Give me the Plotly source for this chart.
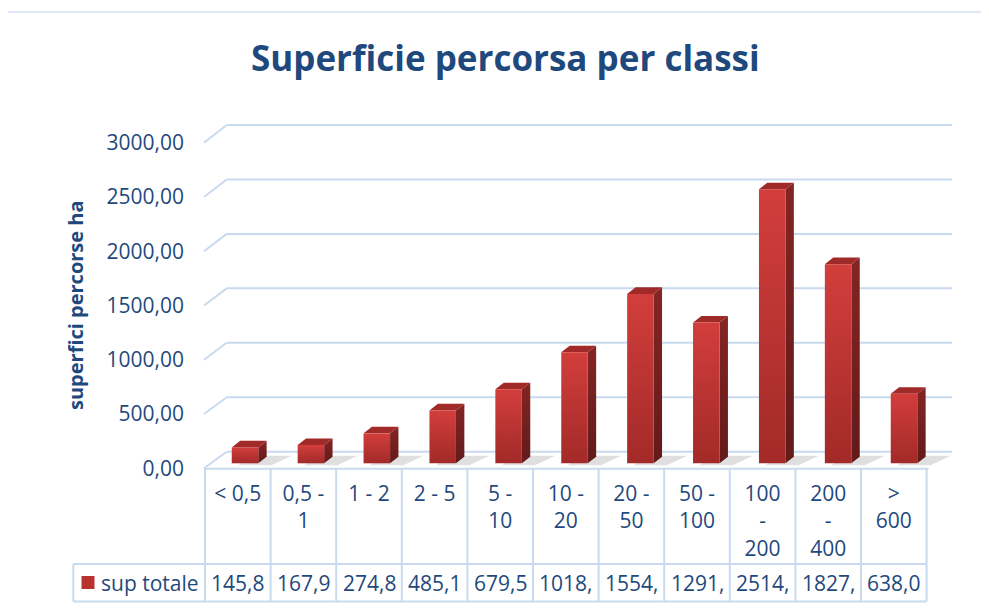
import plotly.graph_objects as go

# ---------------- data ----------------
categories = ["< 0,5", "0,5 -<br>1", "1 - 2", "2 - 5", "5 -<br>10", "10 -<br>20",
              "20 -<br>50", "50 -<br>100", "100<br>-<br>200", "200<br>-<br>400", "><br>600"]
values = [145.8, 167.9, 274.8, 485.1, 679.5, 1018.3, 1554.2, 1291.4, 2514.6, 1827.1, 638.0]
series_name = "sup totale"
y_ticks = [0, 500, 1000, 1500, 2000, 2500, 3000]
title_text = "Superficie percorsa per classi"
y_title = "superfici percorse ha"

# ---------------- geometry helpers (layout only) ----------------
W, H = 989, 611
OFF = 8  # page body margin offset of the figure inside the window
def px(x): return (x - OFF) / W
def py(y): return 1 - (y - OFF) / H

TXT = "#1F497D"
GRID = "#C9DAEF"
FONT = "Open Sans"

def y_range(p0, scale):
    # value 0 at screen pixel p0, 'scale' px per unit
    p = p0 - OFF
    return [-(H - p) / scale, p / scale]

def x_range(p0, scale):
    p = p0 - OFF
    return [-p / scale, (W - p) / scale]

# bars y axis
yb_range = y_range(463.3, 0.10899)
# front (labels) axis
yf0, yfs = 468.3, 0.10853
yf_range = y_range(yf0, yfs)
# back wall (gridlines)
yk0, yks = 451.7, 0.1089
def back_y(v): return yk0 - yks * v
def front_y(v): return yf0 - yfs * v

# table axis: column i center at 237.8 + 65.6 i
xt_range = x_range(237.8, 65.6)
# bar axis: bar i front center at 245 + 65.9 i
xbs = 65.9
xb_range = x_range(245.0, xbs)

bw = 26.5 / xbs          # front face width (axis units)
ddx = 8.4 / xbs          # depth offset x
ddy = 6.6 / 0.10899      # depth offset y (value units)

fig = go.Figure()

# dummy traces so the auxiliary axes exist
fig.add_trace(go.Scatter(x=[0], y=[0], xaxis="x", yaxis="y", mode="markers",
                         marker=dict(opacity=0), hoverinfo="skip", showlegend=False))
fig.add_trace(go.Scatter(x=[0], y=[0], xaxis="x", yaxis="y2", mode="markers",
                         marker=dict(opacity=0), hoverinfo="skip", showlegend=False))

n = len(values)
# floor shadows
for i, v in enumerate(values):
    xl, xr = i - bw / 2, i + bw / 2
    fig.add_trace(go.Scatter(
        x=[xl + 0.1, xr + 0.2, xr + ddx + 0.38, xl + 0.3, xl + 0.1],
        y=[-18, -18, 70, 70, -18], xaxis="x2", yaxis="y",
        fill="toself", mode="lines", line=dict(width=0),
        fillcolor="rgba(110,110,110,0.22)", hoverinfo="skip", showlegend=False))

for i, v in enumerate(values):
    xl, xr = i - bw / 2, i + bw / 2
    # side face
    fig.add_trace(go.Scatter(
        x=[xr, xr + ddx, xr + ddx, xr, xr], y=[0, ddy, v + ddy, v, 0],
        xaxis="x2", yaxis="y", fill="toself", mode="lines", line=dict(width=0),
        fillgradient=dict(type="vertical", colorscale=[[0, "#621a19"], [1, "#842524"]]),
        hoverinfo="skip", showlegend=False))
    # top face
    fig.add_trace(go.Scatter(
        x=[xl, xl + ddx, xr + ddx, xr, xl], y=[v, v + ddy, v + ddy, v, v],
        xaxis="x2", yaxis="y", fill="toself", mode="lines", line=dict(width=0),
        fillcolor="#9f2a28", hoverinfo="skip", showlegend=False))
    # front face
    fig.add_trace(go.Scatter(
        x=[xl, xr, xr, xl, xl], y=[0, 0, v, v, 0],
        xaxis="x2", yaxis="y", fill="toself", mode="lines", line=dict(width=0),
        fillgradient=dict(type="vertical", colorscale=[[0, "#a22a28"], [1, "#d23e3c"]]),
        name=series_name, showlegend=False,
        hovertemplate=f"{categories[i]}: {v}<extra></extra>"))

shapes = []
# outer chart border
shapes.append(dict(type="rect", xref="paper", yref="paper", x0=px(5), x1=px(1010),
                   y0=py(640), y1=py(12), line=dict(color="#D5E2F2", width=1.5), layer="below"))
# gridlines on back wall + left wall diagonals
for v in y_ticks:
    shapes.append(dict(type="line", xref="paper", yref="paper", x0=px(226.7), x1=px(952),
                       y0=py(back_y(v)), y1=py(back_y(v)), line=dict(color=GRID, width=2), layer="below"))
    shapes.append(dict(type="line", xref="paper", yref="paper", x0=px(204), x1=px(226.7),
                       y0=py(front_y(v)), y1=py(back_y(v)), line=dict(color=GRID, width=2), layer="below"))
# floor front edge / table top
shapes.append(dict(type="line", xref="paper", yref="paper", x0=px(204), x1=px(928.5),
                   y0=py(468.8), y1=py(468.8), line=dict(color=GRID, width=2), layer="below"))
# table
col_edges = [205 + 65.6 * k for k in range(n + 1)]
for xe in col_edges:
    shapes.append(dict(type="line", xref="paper", yref="paper", x0=px(xe), x1=px(xe),
                       y0=py(469), y1=py(601.5), line=dict(color=GRID, width=2), layer="below"))
for yl in (564, 601.5):
    shapes.append(dict(type="line", xref="paper", yref="paper", x0=px(73.3), x1=px(col_edges[-1]),
                       y0=py(yl), y1=py(yl), line=dict(color=GRID, width=2), layer="below"))
shapes.append(dict(type="line", xref="paper", yref="paper", x0=px(73.3), x1=px(73.3),
                   y0=py(564), y1=py(601.5), line=dict(color=GRID, width=2), layer="below"))
# legend key
shapes.append(dict(type="rect", xref="paper", yref="paper", x0=px(81.5), x1=px(94.5),
                   y0=py(589), y1=py(576), line=dict(width=0), fillcolor="#b83230"))

annotations = []
annotations.append(dict(text=title_text, x=px(505), y=py(58), xref="paper", yref="paper",
                        xanchor="center", yanchor="middle", showarrow=False,
                        font=dict(family=FONT, size=35, color=TXT, weight="bold")))
annotations.append(dict(text=y_title, x=px(75), y=py(305), xref="paper", yref="paper",
                        xanchor="center", yanchor="middle", showarrow=False, textangle=-90,
                        font=dict(family=FONT, size=20, color=TXT, weight="bold")))
annotations.append(dict(text=series_name, x=px(99), y=py(583), xref="paper", yref="paper",
                        xanchor="left", yanchor="middle", showarrow=False,
                        font=dict(family=FONT, size=21, color=TXT)))
for i, v in enumerate(values):
    label = f"{v:.1f}".replace(".", ",")[:5]
    annotations.append(dict(text=label, x=i, y=py(583), xref="x", yref="paper",
                            xanchor="center", yanchor="middle", showarrow=False,
                            font=dict(family=FONT, size=21, color=TXT)))

fig.update_layout(
    width=W, height=H, autosize=False,
    margin=dict(l=0, r=0, t=0, b=0),
    paper_bgcolor="white", plot_bgcolor="rgba(0,0,0,0)",
    showlegend=False,
    font=dict(family=FONT, color=TXT, size=21),
    xaxis=dict(domain=[0, 1], range=xt_range, anchor="free", position=py(469),
               tickmode="array", tickvals=list(range(n)), ticktext=categories,
               showgrid=False, zeroline=False, showline=False, ticks="",
               ticklabelstandoff=10, tickfont=dict(family=FONT, size=21, color=TXT),
               fixedrange=True),
    xaxis2=dict(domain=[0, 1], range=xb_range, overlaying="x", visible=False, fixedrange=True),
    yaxis=dict(domain=[0, 1], range=yb_range, visible=False, fixedrange=True),
    yaxis2=dict(domain=[0, 1], range=yf_range, overlaying="y", anchor="free", position=px(204),
                side="left", tickmode="array", tickvals=y_ticks,
                ticktext=[f"{t:.2f}".replace(".", ",") for t in y_ticks],
                showgrid=False, zeroline=False, showline=False, ticks="",
                ticklabelstandoff=20, tickfont=dict(family=FONT, size=21, color=TXT),
                fixedrange=True),
    shapes=shapes,
    annotations=annotations,
)

fig.write_html("out.html")
